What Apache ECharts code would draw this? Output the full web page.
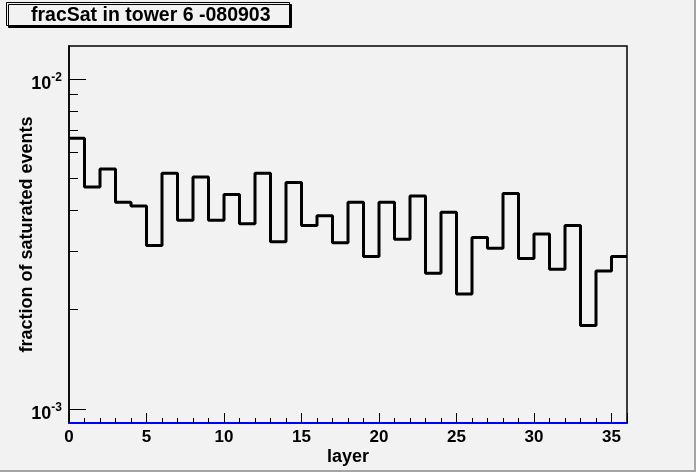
<!DOCTYPE html>
<html>
<head>
<meta charset="utf-8">
<script src="https://cdn.jsdelivr.net/npm/echarts@6/dist/echarts.min.js"></script>
<style>
  html, body { margin: 0; padding: 0; background: #f2f2f2; }
  #chart {
    width: 694px; height: 470px;
    background: #f2f2f2;
    border-right: 2px solid #a4a4a4;
    border-bottom: 2px solid #a4a4a4;
  }
</style>
</head>
<body>
<div id="chart"></div>
<script>
// layer number = bin left edge, one bin per layer
var layers = [];
for (var i = 0; i < 36; i++) layers.push(i);

// fraction of saturated events per layer
var fracSat = [
    0.00661, 0.00471, 0.00534, 0.00423, 0.00412, 0.00313, 0.00518, 0.00373, 0.00505, 0.00373,
    0.00447, 0.00364, 0.00518, 0.00321, 0.00486, 0.00360, 0.00385, 0.00319, 0.00423, 0.00290,
    0.00423, 0.00327, 0.00442, 0.00258, 0.00395, 0.00223, 0.00331, 0.00307, 0.00450, 0.00286,
    0.00339, 0.00265, 0.00360, 0.00179, 0.00262, 0.00290
];

var xTicks = [0, 5, 10, 15, 20, 25, 30, 35];
var yMajorTicks = [0.001, 0.01];
var yMinorTicks = [0.002, 0.003, 0.004, 0.005, 0.006, 0.007, 0.008, 0.009];

var yMin = 0.000907;
var yMax = 0.01259;

// step histogram: point at each bin left edge, plus closing point at the last edge
var histData = layers.map(function (x, i) { return [x, fracSat[i]]; });
histData.push([layers.length, fracSat[fracSat.length - 1]]);

var chart = echarts.init(document.getElementById('chart'));

var font = 'Liberation Sans, Arial, sans-serif';

var option = {
    backgroundColor: '#f2f2f2',
    animation: false,
    title: {
        text: 'fracSat in tower 6 -080903',
        left: 6,
        top: 3,
        padding: [4, 19, 0, 25],
        backgroundColor: '#f2f2f2',
        borderColor: '#000',
        borderWidth: 1,
        shadowColor: '#000',
        shadowOffsetX: 2,
        shadowOffsetY: 2,
        shadowBlur: 0,
        textStyle: {
            fontFamily: font,
            fontWeight: 'bold',
            fontSize: 19.5,
            color: '#000',
            lineHeight: 18
        }
    },
    grid: {
        left: 69,
        right: 67,
        top: 46,
        bottom: 47,
        outerBoundsMode: 'none',
        containLabel: false,
        show: true,
        borderColor: '#000',
        borderWidth: 1.5,
        backgroundColor: '#f2f2f2'
    },
    xAxis: {
        type: 'value',
        min: 0,
        max: 36,
        interval: 5,
        z: 5,
        name: 'layer',
        nameLocation: 'middle',
        nameGap: 25,
        nameMoveOverlap: false,
        nameTextStyle: {
            fontFamily: font,
            fontWeight: 'bold',
            fontSize: 18,
            color: '#000'
        },
        axisLine: { show: true, lineStyle: { color: '#0000ff', width: 2 } },
        axisTick: { show: true, inside: true, length: 10, lineStyle: { color: '#000', width: 1 } },
        minorTick: { show: true, splitNumber: 5, length: 5, lineStyle: { color: '#000', width: 1 } },
        axisLabel: {
            margin: 6,
            fontFamily: font,
            fontWeight: 'bold',
            fontSize: 17,
            color: '#000',
            customValues: xTicks
        },
        splitLine: { show: false }
    },
    yAxis: [
        {
            type: 'log',
            logBase: 10,
            position: 'left',
            min: yMin,
            max: yMax,
            name: 'fraction of saturated events',
            nameLocation: 'middle',
            nameRotate: 90,
            nameGap: 33,
            nameMoveOverlap: false,
            nameTextStyle: {
                fontFamily: font,
                fontWeight: 'bold',
                fontSize: 18,
                color: '#000'
            },
            axisLine: { show: true, lineStyle: { color: '#000', width: 1.5 } },
            axisTick: { show: true, inside: true, length: 17, customValues: yMajorTicks, lineStyle: { color: '#000', width: 1 } },
            axisLabel: {
                margin: 7,
                customValues: yMajorTicks,
                formatter: function (v) {
                    var p = Math.round(Math.log10(v));
                    return '{b|10}{s|' + p + '}';
                },
                rich: {
                    b: { fontFamily: font, fontWeight: 'bold', fontSize: 18, color: '#000', lineHeight: 28, verticalAlign: 'bottom' },
                    s: { fontFamily: font, fontWeight: 'bold', fontSize: 12, color: '#000', lineHeight: 12, verticalAlign: 'bottom', padding: [0, 0, 9, 0] }
                }
            },
            splitLine: { show: false }
        },
        {
            type: 'log',
            logBase: 10,
            position: 'left',
            offset: 0,
            min: yMin,
            max: yMax,
            axisLine: { show: false },
            axisTick: { show: true, inside: true, length: 9, customValues: yMinorTicks, lineStyle: { color: '#000', width: 1 } },
            axisLabel: { show: false },
            splitLine: { show: false }
        }
    ],
    series: [
        {
            type: 'line',
            step: 'end',
            data: histData,
            showSymbol: false,
            symbol: 'none',
            clip: true,
            lineStyle: { color: '#000', width: 3 },
            z: 3
        }
    ]
};

chart.setOption(option);
</script>
</body>
</html>
